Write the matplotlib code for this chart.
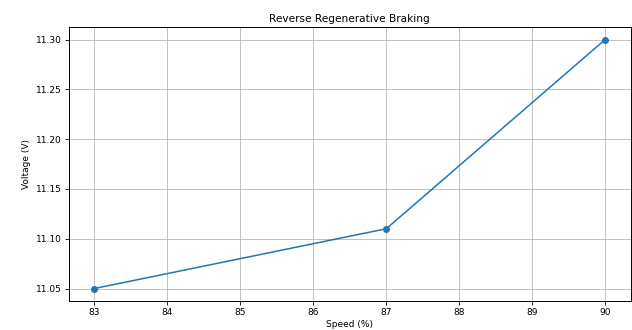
import matplotlib
matplotlib.use('Agg')
import matplotlib.pyplot as plt

speed = [83, 87, 90]
voltage = [11.05, 11.11, 11.30]

plt.rcParams['font.size'] = 6.5
fig = plt.figure(figsize=(6.32, 3.30), dpi=100)
ax = fig.add_axes([0.109, 0.088, 0.889, 0.830])

ax.plot(speed, voltage, marker='o', markersize=4, linewidth=1.1, color='#1f77b4')
ax.set_title('Reverse Regenerative Braking', fontsize=7.6, pad=4)
ax.set_xlabel('Speed (%)', labelpad=2)
ax.set_ylabel('Voltage (V)', labelpad=4)
ax.grid(True, linewidth=0.6, color='#b8b8b8')
ax.tick_params(length=3, width=0.6, pad=2)
for s in ax.spines.values():
    s.set_linewidth(0.7)

fig.savefig('out.png', dpi=100)
